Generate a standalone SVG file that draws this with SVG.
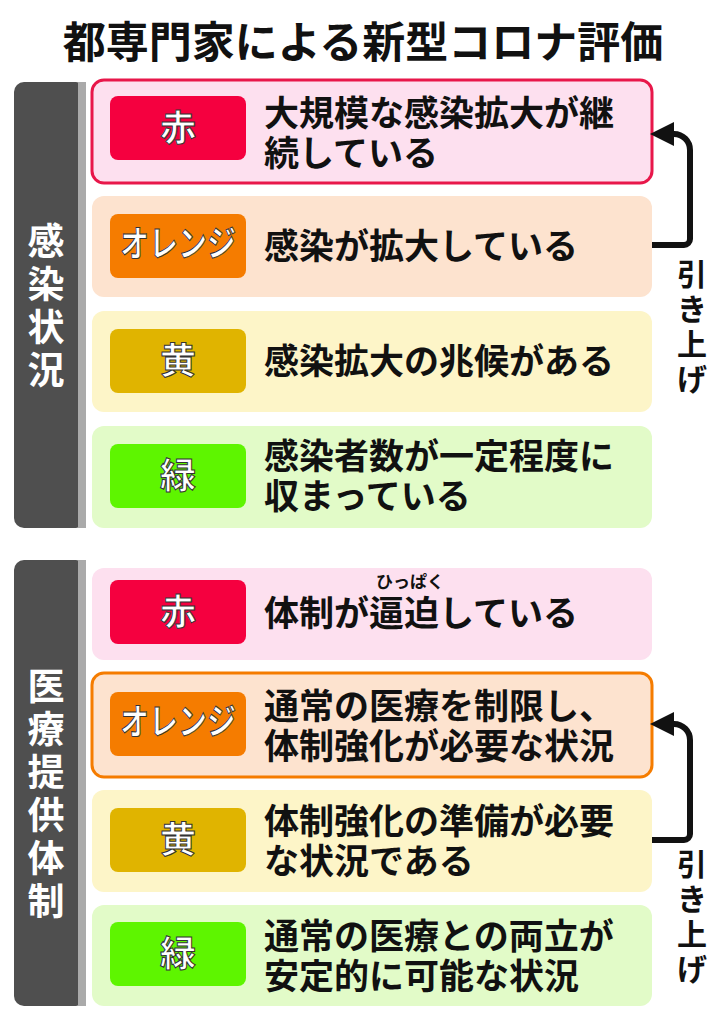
<svg xmlns="http://www.w3.org/2000/svg" width="726" height="1024" viewBox="0 0 726 1024">
<style>
text{font-family:"Noto Sans CJK JP","Noto Sans CJK SC",sans-serif;font-weight:bold}
.t{font-size:35px;fill:#111}
.b{font-size:36px;fill:#fff;text-anchor:middle;stroke:#333;stroke-width:1px}
.v{font-size:37px;fill:#fff;text-anchor:middle}
.a{font-size:30px;fill:#111;text-anchor:middle}
.bar{fill:#4f4f4f}
</style>
<defs><marker id="ah" markerWidth="4" markerHeight="4" refX="1" refY="2" orient="auto"><path d="M0,0L4,2L0,4Z" fill="#111"/></marker></defs>
<rect width="726" height="1024" fill="#fff"/>
<text x="363" y="58" font-size="43" text-anchor="middle" fill="#111">都専門家による新型コロナ評価</text>
<g id="bar1"><rect x="14" y="82" width="72" height="446" rx="10" class="bar"/><rect x="78" y="82" width="8" height="446" fill="#aaa"/>
<text class="v"><tspan x="46" y="255">感</tspan><tspan x="46" y="298">染</tspan><tspan x="46" y="341">状</tspan><tspan x="46" y="384">況</tspan></text></g>
<g id="bar2"><rect x="14" y="560" width="72" height="446" rx="10" class="bar"/><rect x="78" y="560" width="8" height="446" fill="#aaa"/>
<text class="v"><tspan x="46" y="700">医</tspan><tspan x="46" y="743">療</tspan><tspan x="46" y="786">提</tspan><tspan x="46" y="829">供</tspan><tspan x="46" y="872">体</tspan><tspan x="46" y="915">制</tspan></text></g>
<g id="r1"><rect x="92" y="80" width="560" height="103" rx="12" fill="#fde0ef" stroke="#e8174a" stroke-width="3"/><rect x="110" y="96" width="136" height="64" rx="8" fill="#f5003f"/><text class="b" x="178" y="141">赤</text><text class="t"><tspan x="264" y="126">大規模な感染拡大が継</tspan><tspan x="264" y="166">続している</tspan></text></g>
<g id="r2"><rect x="92" y="196" width="560" height="101" rx="12" fill="#fde3cf"/><rect x="110" y="214" width="136" height="64" rx="8" fill="#f57c00"/><text class="b" x="178" y="257" font-size="28" textLength="116" lengthAdjust="spacingAndGlyphs">オレンジ</text><text class="t" x="264" y="259">感染が拡大している</text></g>
<g id="r3"><rect x="92" y="311" width="560" height="101" rx="12" fill="#fdf5c8"/><rect x="110" y="329" width="136" height="64" rx="8" fill="#e0b400"/><text class="b" x="178" y="374">黄</text><text class="t" x="264" y="374">感染拡大の兆候がある</text></g>
<g id="r4"><rect x="92" y="426" width="560" height="102" rx="12" fill="#e2fbc8"/><rect x="110" y="444" width="136" height="64" rx="8" fill="#5ef500"/><text class="b" x="178" y="489">緑</text><text class="t"><tspan x="264" y="469">感染者数が一定程度に</tspan><tspan x="264" y="509">収まっている</tspan></text></g>
<g id="r5"><rect x="92" y="568" width="560" height="92" rx="12" fill="#fde0ef"/><rect x="110" y="580" width="136" height="64" rx="8" fill="#f5003f"/><text class="b" x="178" y="625">赤</text><text x="376" y="588" font-size="17" fill="#111">ひっぱく</text><text class="t" x="264" y="626">体制が逼迫している</text></g>
<g id="r6"><rect x="92" y="673" width="560" height="104" rx="12" fill="#fde3cf" stroke="#f57c00" stroke-width="3"/><rect x="110" y="692" width="136" height="64" rx="8" fill="#f57c00"/><text class="b" x="178" y="735" font-size="28" textLength="116" lengthAdjust="spacingAndGlyphs">オレンジ</text><text class="t"><tspan x="264" y="719">通常の医療を制限し、</tspan><tspan x="264" y="759">体制強化が必要な状況</tspan></text></g>
<g id="r7"><rect x="92" y="790" width="560" height="102" rx="12" fill="#fdf5c8"/><rect x="110" y="808" width="136" height="64" rx="8" fill="#e0b400"/><text class="b" x="178" y="853">黄</text><text class="t"><tspan x="264" y="834">体制強化の準備が必要</tspan><tspan x="264" y="874">な状況である</tspan></text></g>
<g id="r8"><rect x="92" y="905" width="560" height="101" rx="12" fill="#e2fbc8"/><rect x="110" y="922" width="136" height="64" rx="8" fill="#5ef500"/><text class="b" x="178" y="967">緑</text><text class="t"><tspan x="264" y="949">通常の医療との両立が</tspan><tspan x="264" y="989">安定的に可能な状況</tspan></text></g>
<g id="connectors" fill="none" stroke="#111" stroke-width="6">
<path d="M652,245H684a6,6 0 0 0 6,-6V150a16,16 0 0 0 -16,-16H668" marker-end="url(#ah)"/>
<path d="M652,840H684a6,6 0 0 0 6,-6V740a16,16 0 0 0 -16,-16H668" marker-end="url(#ah)"/>
</g>
<g id="lab1"><text class="a"><tspan x="692" y="285">引</tspan><tspan x="692" y="320">き</tspan><tspan x="692" y="355">上</tspan><tspan x="692" y="390">げ</tspan></text></g>
<g id="lab2"><text class="a"><tspan x="692" y="875">引</tspan><tspan x="692" y="910">き</tspan><tspan x="692" y="945">上</tspan><tspan x="692" y="980">げ</tspan></text></g>
</svg>
